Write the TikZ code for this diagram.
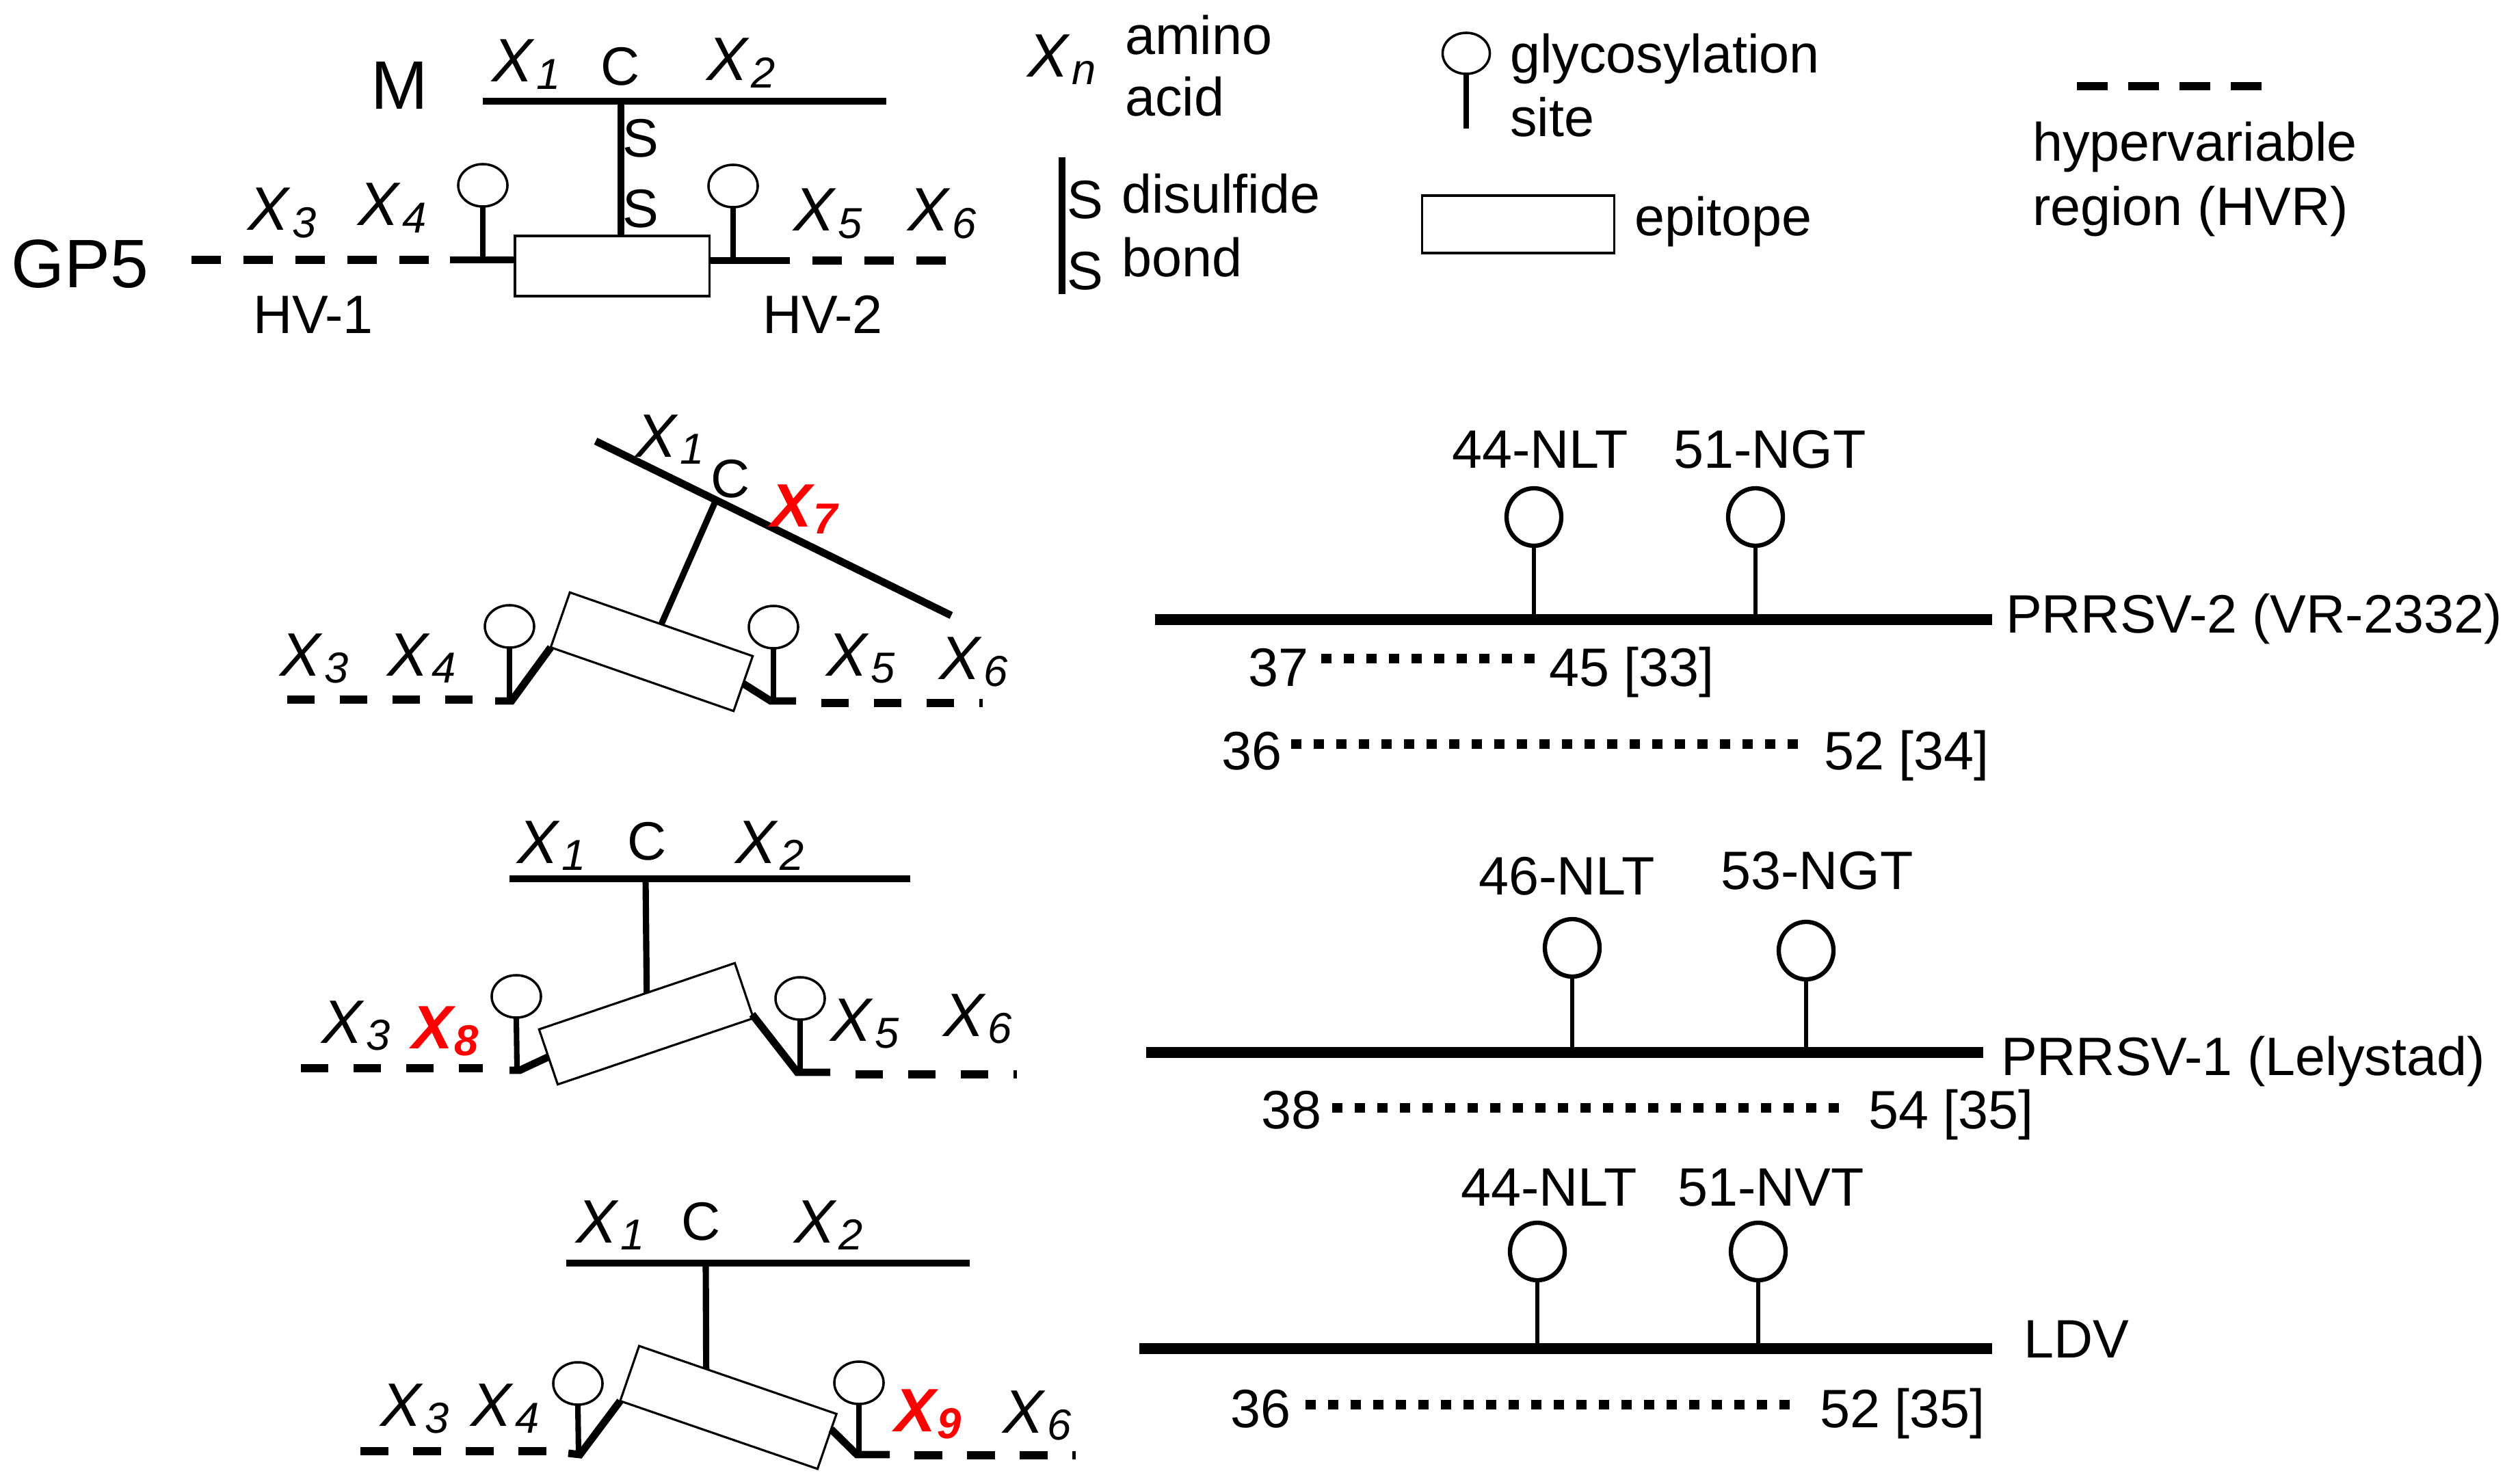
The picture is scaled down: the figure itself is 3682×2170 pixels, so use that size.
\documentclass[tikz,border=0pt]{standalone}
\usepackage{fontspec}
\setmainfont{Liberation Sans}
\usetikzlibrary{calc,shapes.geometric}
\definecolor{xred}{RGB}{255,0,0}
\newcommand\Xsub[1]{\textit{X}\kern0.03em\raisebox{-0.1cm}{\fontsize{18}{18}\selectfont\textit{#1}}}
\newcommand\Xred[1]{\textcolor{xred}{\bfseries\itshape X\kern0.03em\raisebox{-0.1cm}{\fontsize{18}{18}\selectfont #1}}}
\tikzset{
  lab/.style={inner sep=0pt, outer sep=0pt, anchor=base west, font=\fontsize{22.5}{27}\selectfont},
  labc/.style={lab, anchor=base},
  xl/.style={inner sep=0pt, outer sep=0pt, anchor=base west, font=\fontsize{25.5}{30}\selectfont},
  big/.style={inner sep=0pt, outer sep=0pt, anchor=base west, font=\fontsize{28.5}{34}\selectfont},
  mline/.style={line width=3.1pt},
  thickr/.style={line width=4.5pt},
  thinl/.style={line width=2.6pt},
  stalk/.style={line width=2.3pt},
  stalkr/.style={line width=1.6pt},
  hvr/.style={line width=3.4pt, dash pattern=on 0.43cm off 0.33cm},
  hvrb/.style={line width=3.4pt, dash pattern=on 0.40cm off 0.37cm},
  dotl/.style={line width=4.2pt, dash pattern=on 0.15cm off 0.18cm},
  epi/.style={draw, line width=0.9pt, inner sep=0pt, outer sep=0pt, minimum height=0.86cm},
  glyc/.style={draw, ellipse, line width=1pt, inner sep=0pt, outer sep=0pt, minimum width=0.72cm, minimum height=0.62cm},
  glycr/.style={draw, ellipse, line width=1.8pt, inner sep=0pt, outer sep=0pt, minimum width=0.8cm, minimum height=0.84cm},
}
\begin{document}
\begin{tikzpicture}[x=0.01cm, y=-0.01cm]
\useasboundingbox[fill=white] (0,0) rectangle (3682,2170);

% ================= top panel =================
\node[big] (Mlab) at (542,160) {M};
\node[big] (GP5) at (17,420) {GP5};
\draw[mline] (706,148) -- (1296,148);
\coordinate (c1) at (908,148);
\node[epi, minimum width=2.84cm, minimum height=0.88cm] (r1) at (895,389) {};
\draw[thinl] (c1) -- (c1 |- r1.north);
\node[lab] (s1a) at (910,230) {S};
\node[lab] (s1b) at (910,333) {S};
\node[xl] (t1x1) at (719,120) {\Xsub{1}};
\node[lab] (t1c) at (878,125) {C};
\node[xl] (t1x2) at (1033,118) {\Xsub{2}};
\node[xl] (t1x3) at (362,337) {\Xsub{3}};
\node[xl] (t1x4) at (523,330) {\Xsub{4}};
\node[xl] (t1x5) at (1160,338) {\Xsub{5}};
\node[xl] (t1x6) at (1327,338) {\Xsub{6}};
\node[lab] (hv1) at (370,488) {HV-1};
\node[lab] (hv2) at (1115,488) {HV-2};
\draw[hvr] (280,380) -- (627,380);
\draw[mline] (658,380) -- (r1.west |- 0,380);
\draw[mline] (r1.east |- 0,381) -- (1155,381);
\draw[hvr] (1188,381) -- (1383,381);
\node[glyc] (g1) at (706,271) {};
\draw[stalk] (g1.south) -- (706,380);
\node[glyc] (g2) at (1072,272) {};
\draw[stalk] (g2.south) -- (1072,381);

% ================= legend =================
\node[xl] (lxn) at (1502,113) {\Xsub{n}};
\node[lab] (lam) at (1645,80) {amino};
\node[lab] (lac) at (1645,170) {acid};
\coordinate (ldt) at (1553,230);
\coordinate (ldb) at (1553,430);
\draw[thinl] (ldt) -- (ldb);
\node[lab] (ls1) at (1560,320) {S};
\node[lab] (ls2) at (1560,423) {S};
\node[lab] (ldis) at (1640,312) {disulfide};
\node[lab] (lbond) at (1640,405) {bond};
\node[glyc, minimum width=0.69cm, minimum height=0.6cm] (lg) at (2144,78) {};
\coordinate (lgb) at (2144,188);
\draw[stalk] (lg.south) -- (lgb);
\node[lab] (lgly) at (2208,107) {glycosylation};
\node[lab] (lsite) at (2208,200) {site};
\node[epi, minimum width=2.81cm, minimum height=0.84cm] (lepi) at (2220,328) {};
\node[lab] (lept) at (2390,345) {epitope};
\coordinate (lh1) at (3037,126);
\coordinate (lh2) at (3307,126);
\draw[line width=3.4pt, dash pattern=on 0.45cm off 0.30cm] (lh1) -- (lh2);
\node[lab] (lhyp) at (2972,236) {hypervariable};
\node[lab] (lreg) at (2972,330) {region (HVR)};

% ================= panel 2 (PRRSV-2) =================
\coordinate (m2a) at (871,645);
\coordinate (m2b) at (1391,900);
\draw[mline] (m2a) -- (m2b);
\coordinate (c2) at (1047,731);
\node[epi, minimum width=2.83cm, minimum height=0.85cm, rotate=-19.2] (r2) at (953,953) {};
\draw[thinl] (c2) -- (r2.north);
\node[glyc] (g3) at (745,916) {};
\draw[stalk] (g3.south) -- (745,1025);
\node[glyc] (g4) at (1131,917) {};
\draw[stalk] (g4.south) -- (1131,1025);
\draw[hvrb] (420,1023) -- (691,1023);
\draw[mline] (724,1025) -- (748,1025) -- (r2.south west);
\draw[mline] (r2.east) -- (1127,1025) -- (1164,1025);
\draw[hvrb] (1201,1028) -- (1437,1028);
\node[xl] (t2x1) at (929,668) {\Xsub{1}};
\node[lab] (t2c) at (1039,727) {C};
\node[xl] (t2x7) at (1127,770) {\Xred{7}};
\node[xl] (t2x3) at (409,988) {\Xsub{3}};
\node[xl] (t2x4) at (566,988) {\Xsub{4}};
\node[xl] (t2x5) at (1208,988) {\Xsub{5}};
\node[xl] (t2x6) at (1373,993) {\Xsub{6}};

\coordinate (p2a) at (1689,906);
\coordinate (p2b) at (2913,906);
\draw[thickr] (p2a) -- (p2b);
\node[glycr] (g5) at (2243,756) {};
\draw[stalkr] (g5.south) -- (2243,906);
\node[glycr] (g6) at (2567,756) {};
\draw[stalkr] (g6.south) -- (2567,906);
\node[lab] (n44a) at (2123,684) {44-NLT};
\node[lab] (n51a) at (2447,684) {51-NGT};
\node[lab] (prrsv2) at (2933,925) {PRRSV-2 (VR-2332)};
\node[lab] (n37) at (1825,1003) {37};
\node[lab] (n45) at (2265,1003) {45 [33]};
\draw[dotl] (1932,963) -- (2244,963);
\node[lab] (n36a) at (1786,1125) {36};
\node[lab] (n52a) at (2667,1125) {52 [34]};
\draw[dotl] (1888,1088) -- (2629,1088);

% ================= panel 3 (PRRSV-1) =================
\draw[mline] (745,1285) -- (1331,1285);
\coordinate (c3) at (944,1285);
\node[epi, minimum width=3.02cm, minimum height=0.85cm, rotate=18.7] (r3) at (945,1497) {};
\draw[thinl] (c3) -- ($(r3.north west)!0.55!(r3.north east)$);
\node[glyc] (g7) at (755,1457) {};
\draw[stalk] (g7.south) -- (756,1565);
\node[glyc] (g8) at (1170,1460) {};
\draw[stalk] (g8.south) -- (1170,1568);
\draw[hvrb] (440,1562) -- (706,1562);
\draw[mline] (745,1565) -- (760,1565) -- (r3.west);
\draw[mline] ($(r3.north east)!0.93!(r3.south east)$) -- (1166,1568) -- (1214,1568);
\draw[hvrb] (1251,1571) -- (1487,1571);
\node[xl] (t3x1) at (756,1262) {\Xsub{1}};
\node[lab] (t3c) at (917,1257) {C};
\node[xl] (t3x2) at (1075,1262) {\Xsub{2}};
\node[xl] (t3x3) at (470,1525) {\Xsub{3}};
\node[xl] (t3x8) at (602,1533) {\Xred{8}};
\node[xl] (t3x5) at (1214,1522) {\Xsub{5}};
\node[xl] (t3x6) at (1379,1515) {\Xsub{6}};

\coordinate (p3a) at (1676,1539);
\coordinate (p3b) at (2900,1539);
\draw[thickr] (p3a) -- (p3b);
\node[glycr] (g9) at (2299,1386) {};
\draw[stalkr] (g9.south) -- (2299,1539);
\node[glycr] (g10) at (2641,1390) {};
\draw[stalkr] (g10.south) -- (2641,1539);
\node[lab] (n46) at (2162,1308) {46-NLT};
\node[lab] (n53) at (2516,1300) {53-NGT};
\node[lab] (prrsv1) at (2926,1572) {PRRSV-1 (Lelystad)};
\node[lab] (n38) at (1844,1650) {38};
\node[lab] (n54) at (2732,1650) {54 [35]};
\draw[dotl] (1948,1620) -- (2689,1620);

% ================= panel 4 (LDV) =================
\draw[mline] (828,1847) -- (1418,1847);
\coordinate (c4) at (1032,1847);
\node[epi, minimum width=3.05cm, minimum height=0.85cm, rotate=-19] (r4) at (1065,2058) {};
\draw[thinl] (c4) -- ($(r4.north west)!0.34!(r4.north east)$);
\node[glyc] (g11) at (845,2023) {};
\draw[stalk] (g11.south) -- (846,2127);
\node[glyc] (g12) at (1256,2022) {};
\draw[stalk] (g12.south) -- (1256,2127);
\draw[line width=3.4pt, dash pattern=on 0.41cm off 0.36cm] (527,2122) -- (799,2122);
\draw[mline] (831,2125) -- (848,2127) -- (r4.south west);
\draw[mline] ($(r4.north east)!0.28!(r4.south east)$) -- (1253,2127) -- (1301,2127);
\draw[line width=3.4pt, dash pattern=on 0.41cm off 0.36cm] (1337,2128) -- (1573,2128);
\node[xl] (t4x1) at (842,1817) {\Xsub{1}};
\node[lab] (t4c) at (996,1813) {C};
\node[xl] (t4x2) at (1161,1817) {\Xsub{2}};
\node[xl] (t4x3) at (556,2085) {\Xsub{3}};
\node[xl] (t4x4) at (688,2085) {\Xsub{4}};
\node[xl] (t4x9) at (1308,2093) {\Xred{9}};
\node[xl] (t4x6) at (1466,2095) {\Xsub{6}};

\coordinate (p4a) at (1666,1972);
\coordinate (p4b) at (2913,1972);
\draw[thickr] (p4a) -- (p4b);
\node[glycr] (g13) at (2248,1830) {};
\draw[stalkr] (g13.south) -- (2248,1972);
\node[glycr] (g14) at (2571,1830) {};
\draw[stalkr] (g14.south) -- (2571,1972);
\node[lab] (n44b) at (2136,1763) {44-NLT};
\node[lab] (n51b) at (2453,1763) {51-NVT};
\node[lab] (ldv) at (2959,1985) {LDV};
\node[lab] (n36b) at (1799,2087) {36};
\node[lab] (n52b) at (2661,2087) {52 [35]};
\draw[dotl] (1909,2054) -- (2617,2054);
\end{tikzpicture}
\end{document}
